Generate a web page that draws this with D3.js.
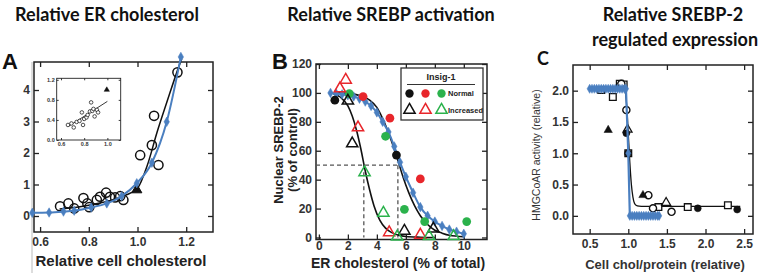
<!DOCTYPE html>
<html lang="en">
<head>
<meta charset="UTF-8">
<title>ER cholesterol and SREBP panels</title>
<script src="https://d3js.org/d3.v7.min.js"></script>
<style>
  body { margin: 0; background: #fff; }
  svg text { font-family: "Liberation Sans", Arial, sans-serif; }
  .title { font-family: Lato, "Open Sans", sans-serif; font-weight: 700; font-size: 18px; fill: #111; }
  .letter { font-weight: bold; font-size: 22px; fill: #111; }
  .tick text { font-weight: bold; font-size: 12px; fill: #333; }
  .inset .tick text { font-size: 5.5px; }
  .alabel { font-weight: bold; font-size: 15px; fill: #222; }
</style>
</head>
<body>
<div id="chart"></div>
<script>
// ---- panel A : relative ER cholesterol vs cell cholesterol
const aRingX = [0.682, 0.716, 0.740, 0.778, 0.794, 0.802, 0.833, 0.846, 0.871, 0.887, 0.908, 0.929, 0.942, 1.011, 1.059, 1.068, 1.086, 1.164];
const aRingY = [0.31, 0.40, 0.24, 0.57, 0.40, 0.28, 0.51, 0.61, 0.74, 0.61, 0.59, 0.63, 0.51, 1.93, 2.25, 3.18, 1.62, 4.56];
const aTriX = [0.997];
const aTriY = [0.83];
const aFitX = [0.68, 0.75, 0.80, 0.85, 0.90, 0.95, 1.00, 1.04, 1.08, 1.12, 1.17, 1.182];
const aFitY = [0.22, 0.28, 0.34, 0.42, 0.52, 0.66, 0.88, 1.60, 2.65, 3.60, 4.75, 5.0];
const aBlueX = [0.568, 0.637, 0.696, 0.740, 0.810, 0.874, 0.935, 0.997, 1.059, 1.120, 1.178];
const aBlueY = [0.10, 0.11, 0.14, 0.17, 0.27, 0.40, 0.63, 1.04, 1.69, 2.99, 5.05];
const aXTicks = [0.6, 0.8, 1.0, 1.2];
const aYTicks = [0, 1, 2, 3, 4];
// inset of panel A
const inX = [0.66, 0.69, 0.71, 0.735, 0.76, 0.78, 0.79, 0.80, 0.82, 0.83, 0.85, 0.86, 0.87, 0.88, 0.89, 0.91, 0.92];
const inY = [0.30, 0.33, 0.25, 0.36, 0.38, 0.55, 0.30, 0.42, 0.45, 0.50, 0.57, 0.75, 0.58, 0.62, 0.47, 0.60, 0.55];
const inTriX = [0.995];
const inTriY = [1.0];
const inFitX = [0.67, 1.0];
const inFitY = [0.28, 0.77];
const inXTicks = [0.6, 0.8, 1.0];
const inYTicks = [0.0, 0.4, 0.8, 1.2];

// ---- panel B : nuclear SREBP-2 vs ER cholesterol
const bNormBlackX = [1.1, 5.35];
const bNormBlackY = [95, 57];
const bNormRedX = [3.05, 4.9, 7.0];
const bNormRedY = [97.5, 82.5, 40.5];
const bNormGreenX = [2.1, 4.6, 5.9, 7.3, 10.2];
const bNormGreenY = [99.5, 70, 19.5, 11, 11];
const bIncBlackX = [2.0, 2.3, 5.9, 7.9];
const bIncBlackY = [94.5, 65, 4.5, 6];
const bIncRedX = [1.45, 1.85, 2.7, 4.85, 7.0];
const bIncRedY = [103, 109, 76, 3.5, 1.8];
const bIncGreenX = [3.15, 4.45, 5.4, 7.6, 9.3];
const bIncGreenY = [45, 17, 0.5, 0.8, 0.8];
const bFitNormX = [1.2, 2.0, 2.5, 3.0, 3.5, 4.0, 4.5, 5.0, 5.4, 5.8, 6.2, 6.6, 7.0, 7.5, 8.0, 8.5, 9.0, 10.0];
const bFitNormY = [100, 99.7, 99, 97.5, 95, 90, 80, 67, 55, 42, 31, 22, 15, 9, 5, 3, 1.5, 0.5];
const bFitIncX = [1.0, 1.5, 2.0, 2.3, 2.6, 2.9, 3.2, 3.5, 3.8, 4.2, 4.6, 5.0, 5.5, 6.0, 7.0, 8.0];
const bFitIncY = [99.5, 97, 91, 84, 74, 61, 46, 33, 22, 12, 6.5, 3.5, 1.5, 0.7, 0.2, 0];
const bBlueX = [0.8, 1.2, 1.6, 2.0, 2.4, 2.8, 3.2, 3.6, 4.0, 4.4, 4.8, 5.2, 5.6, 6.0, 6.5, 7.0, 7.5, 8.0, 8.5, 9.0, 9.5, 10.0];
const bBlueY = [100, 99.5, 99, 98.3, 97.5, 96, 94, 91, 86.5, 80, 73, 63, 52, 42, 31, 21, 15, 11, 8, 5.5, 4, 2.5];
const bHalfY = 50;
const bHalfX = [3.1, 5.45];
const bXTicks = [0, 2, 4, 6, 8, 10];
const bYTicks = [0, 20, 40, 60, 80, 100, 120];

// ---- panel C : HMGCoAR activity vs cell chol/protein
const cSquareX = [0.65, 0.80, 0.89, 0.94, 1.00, 1.39, 1.77, 2.29];
const cSquareY = [2.01, 1.90, 2.11, 2.10, 1.00, 0.14, 0.14, 0.17];
const cRingX = [0.91, 0.975, 1.26, 1.32, 1.56];
const cRingY = [2.11, 1.69, 0.33, 0.12, 0.065];
const cDotX = [0.975, 0.996, 1.90, 2.41];
const cDotY = [1.32, 1.00, 0.12, 0.10];
const cTriX = [0.74, 1.19];
const cTriY = [1.37, 0.33];
const cOpenTriX = [0.99, 1.49];
const cOpenTriY = [1.38, 0.21];
const cFitX = [0.90, 0.95, 0.98, 1.00, 1.02, 1.04, 1.06, 1.08, 1.10, 1.14, 1.20, 1.50, 2.00, 2.45];
const cFitY = [2.03, 2.01, 1.75, 1.30, 0.85, 0.50, 0.30, 0.20, 0.17, 0.155, 0.15, 0.15, 0.15, 0.15];
const cBlueX = [0.50, 0.53, 0.56, 0.59, 0.62, 0.65, 0.68, 0.71, 0.74, 0.77, 0.80, 0.83, 0.86, 0.89, 0.92, 0.95, 0.97,
                1.00, 1.02, 1.05, 1.08, 1.11, 1.14, 1.17, 1.20, 1.23, 1.26, 1.29, 1.32, 1.35, 1.38, 1.40];
const cBlueY = [2.03, 2.03, 2.03, 2.03, 2.03, 2.03, 2.03, 2.03, 2.03, 2.03, 2.03, 2.03, 2.03, 2.03, 2.03, 2.03, 2.03,
                1.00, 0, 0, 0, 0, 0, 0, 0, 0, 0, 0, 0, 0, 0, 0];
const cXTicks = [0.5, 1.0, 1.5, 2.0, 2.5];
const cYTicks = [0.0, 0.5, 1.0, 1.5, 2.0];

const RED = '#e8262b', GREEN = '#2bb24c', BLUE = '#4a7fc0';

const svg = d3.select('#chart').append('svg').attr('width', 759).attr('height', 275);

const zip = (xs, ys) => xs.map((v, i) => [v, ys[i]]);

function frame(g, x, y, o) {
  const [x0, x1] = x.range(), [y0, y1] = y.range();
  const ts = o.ts || 5;
  const b = g.append('g').attr('transform', `translate(0,${y0})`)
    .call(d3.axisBottom(x).tickValues(o.xt).tickFormat(o.xf).tickSize(-ts).tickPadding(o.xpad || o.pad || 5));
  const l = g.append('g').attr('transform', `translate(${x0},0)`)
    .call(d3.axisLeft(y).tickValues(o.yt).tickFormat(o.yf).tickSize(-ts).tickPadding(o.pad || 4));
  const r = g.append('g').attr('transform', `translate(${x1},0)`)
    .call(d3.axisRight(y).tickValues(o.yt).tickFormat('').tickSize(-ts));
  const t = g.append('g').attr('transform', `translate(0,${y1})`)
    .call(d3.axisTop(x).tickValues(o.xt).tickFormat('').tickSize(-ts));
  [b, l, r, t].forEach(a => {
    a.select('.domain').remove();
    a.selectAll('.tick line').attr('stroke', '#222').attr('stroke-width', o.sw || 1.3);
  });
  g.append('rect').attr('x', x0).attr('y', y1).attr('width', x1 - x0).attr('height', y0 - y1)
    .attr('fill', 'none').attr('stroke', '#222').attr('stroke-width', o.sw || 1.5);
}

function line(g, x, y, xs, ys, color, w) {
  g.append('path').datum(zip(xs, ys))
    .attr('d', d3.line().x(d => x(d[0])).y(d => y(d[1])).curve(d3.curveMonotoneX))
    .attr('fill', 'none').attr('stroke', color).attr('stroke-width', w);
}

function marks(g, x, y, xs, ys, type, size, fill, stroke, sw) {
  g.append('g').selectAll('path').data(zip(xs, ys)).join('path')
    .attr('transform', d => `translate(${x(d[0])},${y(d[1])})`)
    .attr('d', d3.symbol(type, size))
    .attr('fill', fill).attr('stroke', stroke).attr('stroke-width', sw);
}

// titles
svg.append('text').attr('class', 'title').attr('x', 107).attr('y', 21).attr('text-anchor', 'middle').text('Relative ER cholesterol');
svg.append('text').attr('class', 'title').attr('x', 391).attr('y', 21).attr('text-anchor', 'middle').text('Relative SREBP activation');
svg.append('text').attr('class', 'title').attr('x', 673).attr('y', 21).attr('text-anchor', 'middle').text('Relative SREBP-2');
svg.append('text').attr('class', 'title').attr('x', 675).attr('y', 46).attr('text-anchor', 'middle').text('regulated  expression');

// ================= panel A
const gA = svg.append('g');
const xA = d3.scaleLinear().domain([0.575, 1.31]).range([34, 213]);
const yA = d3.scaleLinear().domain([-0.508, 4.889]).range([232, 62]);
gA.append('line').attr('x1', 32).attr('x2', 32).attr('y1', 62).attr('y2', 273).attr('stroke', '#bbb').attr('stroke-width', 1);
frame(gA, xA, yA, { xt: aXTicks, yt: aYTicks, xf: d3.format('.1f'), yf: d3.format('d') });
gA.append('text').attr('class', 'letter').attr('x', 2).attr('y', 69).text('A');
svg.append('clipPath').attr('id', 'clipA').append('rect').attr('x', 0).attr('y', 63).attr('width', 30).attr('height', 200);
gA.append('text').attr('class', 'alabel').attr('clip-path', 'url(#clipA)')
  .attr('transform', 'translate(15,228) rotate(-90)').text('Relative ER cholesterol');
gA.append('text').attr('class', 'alabel').attr('x', 121).attr('y', 266).attr('text-anchor', 'middle').text('Relative cell cholesterol');
line(gA, xA, yA, aFitX, aFitY, '#111', 1.5);
marks(gA, xA, yA, aRingX, aRingY, d3.symbolCircle, 66, 'none', '#111', 1.5);
marks(gA, xA, yA, aTriX, aTriY, d3.symbolTriangle, 45, '#111', '#111', 1);
line(gA, xA, yA, aBlueX, aBlueY, BLUE, 2);
marks(gA, xA, yA, aBlueX, aBlueY, d3.symbolDiamond, 26, BLUE, BLUE, 0.5);

// inset
const gI = gA.append('g').attr('class', 'inset');
const xI = d3.scaleLinear().domain([0.563, 1.115]).range([56.7, 120.7]);
const yI = d3.scaleLinear().domain([0, 1.23]).range([140, 78.3]);
frame(gI, xI, yI, { xt: inXTicks, yt: inYTicks, xf: d3.format('.1f'), yf: d3.format('.1f'), ts: 2, pad: 2, sw: 0.9 });
gI.selectAll('.tick text').attr('fill', '#444');
line(gI, xI, yI, inFitX, inFitY, '#222', 0.9);
marks(gI, xI, yI, inX, inY, d3.symbolCircle, 10, '#fff', '#222', 0.8);
marks(gI, xI, yI, inTriX, inTriY, d3.symbolTriangle, 12, '#111', '#111', 0.5);

// ================= panel B
const gB = svg.append('g');
const xB = d3.scaleLinear().domain([-0.2, 11.6]).range([316, 487]);
const yB = d3.scaleLinear().domain([-1.4, 120]).range([239.5, 64]);
frame(gB, xB, yB, { xt: bXTicks, yt: bYTicks, xf: d3.format('d'), yf: d3.format('d'), xpad: 2 });
gB.selectAll('.tick text').attr('fill', '#3a3a3a');
gB.append('text').attr('class', 'letter').attr('x', 272).attr('y', 69).text('B');
gB.append('text').attr('transform', 'translate(283,150) rotate(-90)').attr('text-anchor', 'middle')
  .attr('font-weight', 'bold').attr('font-size', 13).attr('fill', '#222').text('Nuclear SREBP-2');
gB.append('text').attr('transform', 'translate(297,150) rotate(-90)').attr('text-anchor', 'middle')
  .attr('font-weight', 'bold').attr('font-size', 13).attr('fill', '#222').text('(% of control)');
gB.append('text').attr('x', 398).attr('y', 268).attr('text-anchor', 'middle')
  .attr('font-weight', 'bold').attr('font-size', 14).attr('fill', '#222').text('ER cholesterol (% of total)');

// half-max guides
const dash = { stroke: '#555', 'stroke-width': 1.3, 'stroke-dasharray': '4,3' };
const guide = (x1, y1, x2, y2) => {
  const ln = gB.append('line').attr('x1', x1).attr('y1', y1).attr('x2', x2).attr('y2', y2);
  Object.entries(dash).forEach(([k, v]) => ln.attr(k, v));
};
guide(xB.range()[0], yB(bHalfY), xB(bHalfX[1]), yB(bHalfY));
bHalfX.forEach(v => guide(xB(v), yB(bHalfY), xB(v), yB(0)));

line(gB, xB, yB, bFitIncX, bFitIncY, '#111', 1.6);
line(gB, xB, yB, bFitNormX, bFitNormY, '#111', 1.6);
line(gB, xB, yB, bBlueX, bBlueY, BLUE, 2);
marks(gB, xB, yB, bBlueX, bBlueY, d3.symbolDiamond, 26, BLUE, BLUE, 0.5);
marks(gB, xB, yB, bNormBlackX, bNormBlackY, d3.symbolCircle, 60, '#111', 'none', 0);
marks(gB, xB, yB, bNormRedX, bNormRedY, d3.symbolCircle, 60, RED, 'none', 0);
marks(gB, xB, yB, bNormGreenX, bNormGreenY, d3.symbolCircle, 60, GREEN, 'none', 0);
marks(gB, xB, yB, bIncBlackX, bIncBlackY, d3.symbolTriangle, 55, 'none', '#111', 1.5);
marks(gB, xB, yB, bIncRedX, bIncRedY, d3.symbolTriangle, 55, 'none', RED, 1.5);
marks(gB, xB, yB, bIncGreenX, bIncGreenY, d3.symbolTriangle, 55, 'none', GREEN, 1.5);

// legend
const lg = gB.append('g');
lg.append('rect').attr('x', 401).attr('y', 68).attr('width', 82).attr('height', 52)
  .attr('fill', '#fff').attr('stroke', '#333').attr('stroke-width', 1.3);
lg.append('text').attr('x', 441).attr('y', 80).attr('text-anchor', 'middle')
  .attr('font-weight', 'bold').attr('font-size', 9).attr('fill', '#222').text('Insig-1');
lg.append('line').attr('x1', 407).attr('x2', 475).attr('y1', 84.5).attr('y2', 84.5).attr('stroke', '#333');
[['#111', 409.5], [RED, 425.5], [GREEN, 441.5]].forEach(([c, cx]) => {
  lg.append('path').attr('transform', `translate(${cx},93.5)`).attr('d', d3.symbol(d3.symbolCircle, 55)).attr('fill', c);
  lg.append('path').attr('transform', `translate(${cx},110)`).attr('d', d3.symbol(d3.symbolTriangle, 55))
    .attr('fill', 'none').attr('stroke', c).attr('stroke-width', 1.5);
});
lg.append('text').attr('x', 448).attr('y', 96).attr('font-weight', 'bold').attr('font-size', 7.5).attr('fill', '#222').text('Normal');
lg.append('text').attr('x', 448).attr('y', 112.5).attr('font-weight', 'bold').attr('font-size', 7.5).attr('fill', '#222').text('Increased');

// ================= panel C
const gC = svg.append('g');
const xC = d3.scaleLinear().domain([0.284, 2.615]).range([573, 753]);
const yC = d3.scaleLinear().domain([-0.29, 2.41]).range([234, 65]);
frame(gC, xC, yC, { xt: cXTicks, yt: cYTicks, xf: d3.format('.1f'), yf: d3.format('.1f') });
gC.selectAll('.tick text').attr('fill', '#3a3a3a');
gC.append('text').attr('class', 'title').attr('x', 537).attr('y', 65).attr('font-size', 24).text('C');
gC.append('text').attr('transform', 'translate(540,155) rotate(-90)').attr('text-anchor', 'middle')
  .attr('font-size', 10.5).attr('fill', '#333').text('HMGCoAR activity (relative)');
gC.append('text').attr('x', 665).attr('y', 269).attr('text-anchor', 'middle')
  .attr('font-weight', 'bold').attr('font-size', 13).attr('fill', '#333').text('Cell chol/protein (relative)');
line(gC, xC, yC, cFitX, cFitY, '#111', 1.3);
marks(gC, xC, yC, cSquareX, cSquareY, d3.symbolSquare, 45, '#fff', '#111', 1.3);
marks(gC, xC, yC, cRingX, cRingY, d3.symbolCircle, 40, '#fff', '#111', 1.4);
marks(gC, xC, yC, cDotX, cDotY, d3.symbolCircle, 38, '#111', '#111', 0.5);
marks(gC, xC, yC, cTriX, cTriY, d3.symbolTriangle, 30, '#111', '#111', 0.5);
marks(gC, xC, yC, cOpenTriX, cOpenTriY, d3.symbolTriangle, 35, 'none', '#111', 1.3);
gC.append('path').datum(zip(cBlueX, cBlueY))
  .attr('d', d3.line().x(d => xC(d[0])).y(d => yC(d[1])))
  .attr('fill', 'none').attr('stroke', BLUE).attr('stroke-width', 2.2);
marks(gC, xC, yC, cBlueX, cBlueY, d3.symbolDiamond, 24, BLUE, BLUE, 0.5);
</script>
</body>
</html>
